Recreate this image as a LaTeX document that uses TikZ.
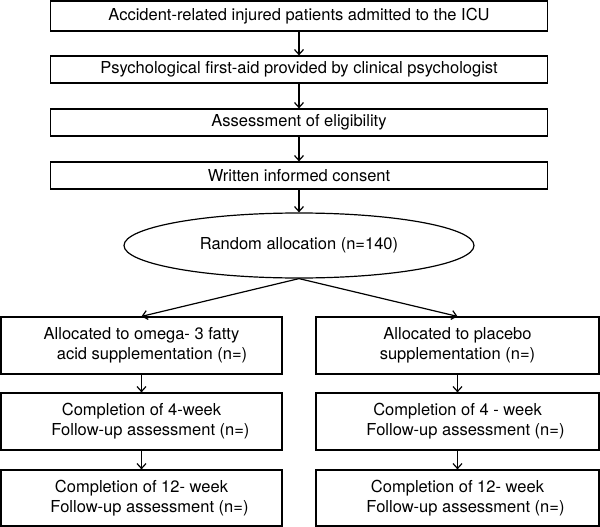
\documentclass[tikz,border=0pt]{standalone}
\usepackage{fontspec}
\setmainfont{TeX Gyre Heros}
\usepackage{tikz}
\usetikzlibrary{arrows.meta,shapes.geometric}

\begin{document}
\begin{tikzpicture}[x=1pt, y=-1pt,
		box/.style={draw, line width=1.2pt, inner sep=0pt, align=center,
			font=\fontsize{16.5}{20}\selectfont},
		oval/.style={ellipse, draw, line width=1.2pt, inner sep=0pt,
			font=\fontsize{16.5}{20}\selectfont},
		>={Straight Barb[length=5pt,width=9pt]}]
		\useasboundingbox (0,0) rectangle (600,527);
		% верхние блоки
		\node [box, minimum width=497pt, minimum height=30pt] (acc) at (299,16) {Accident-related injured patients admitted to the ICU};
		\node [box, minimum width=497pt, minimum height=27pt] (psy) at (299,69.5) {Psychological first-aid provided by clinical psychologist};
		\node [box, minimum width=497pt, minimum height=27pt] (elig) at (299,122.5) {Assessment of eligibility};
		\node [box, minimum width=497pt, minimum height=27pt] (cons) at (299,175.5) {Written informed consent};
		\node [oval, minimum width=350pt, minimum height=65pt] (rand) at (299,245.5) {Random allocation (n=140)};
		% левая ветвь
		\node [box, minimum width=281pt, minimum height=57pt] (omega) at (141.5,345.5) {Allocated to omega- 3 fatty\\\hspace*{21pt}acid supplementation (n=)};
		\node [box, minimum width=281pt, minimum height=57pt] (omfour) at (141.5,421.5) {Completion of 4-week\\\hspace*{18pt}Follow-up assessment (n=)};
		\node [box, minimum width=281pt, minimum height=56pt] (omtw) at (141.5,498) {Completion of 12- week\\\hspace*{16pt}Follow-up assessment (n=)};
		% правая ветвь
		\node [box, minimum width=283pt, minimum height=57pt] (plac) at (457.5,345.5) {Allocated to placebo\\supplementation (n=)};
		\node [box, minimum width=283pt, minimum height=57pt] (plfour) at (457.5,421.5) {Completion of 4 - week\\\hspace*{16pt}Follow-up assessment (n=)};
		\node [box, minimum width=283pt, minimum height=56pt] (pltw) at (457.5,498) {Completion of 12- week\\\hspace*{16pt}Follow-up assessment (n=)};
		% стрелки
		\draw [->, line width=1.2pt] (acc) -- (psy);
		\draw [->, line width=1.2pt] (psy) -- (elig);
		\draw [->, line width=1.2pt] (elig) -- (cons);
		\draw [->, line width=1.2pt] (cons) -- (rand);
		\draw [->, line width=1.2pt] (rand.south) -- (omega.north);
		\draw [->, line width=1.2pt] (rand.south) -- (plac.north);
		\draw [->, line width=1.2pt] (omega) -- (omfour);
		\draw [->, line width=1.2pt] (omfour) -- (omtw);
		\draw [->, line width=1.2pt] (plac) -- (plfour);
		\draw [->, line width=1.2pt] (plfour) -- (pltw);
		\end{tikzpicture}
\end{document}
